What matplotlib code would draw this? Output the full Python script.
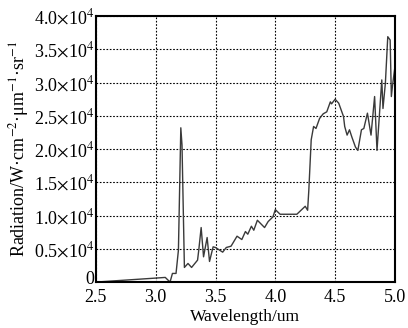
import matplotlib
matplotlib.use("Agg")
import matplotlib.pyplot as plt
import matplotlib.transforms as mtransforms
import numpy as np

plt.rcParams['font.family'] = ['Liberation Serif', 'DejaVu Serif']
plt.rcParams['mathtext.fontset'] = 'stix'

# spectrum (wavelength in um, radiation in units of 1e4)
wavelength = [2.50, 3.00, 3.08, 3.12, 3.14, 3.17, 3.19, 3.21, 3.22, 3.24,
              3.27, 3.30, 3.35, 3.36, 3.38, 3.40, 3.43, 3.45, 3.48, 3.50,
              3.56, 3.59, 3.63, 3.68, 3.72, 3.75, 3.77, 3.80, 3.82, 3.85,
              3.91, 3.94, 3.98, 4.00, 4.04, 4.18, 4.25, 4.27, 4.28, 4.30,
              4.32, 4.34, 4.37, 4.40, 4.43, 4.46, 4.47, 4.50, 4.53, 4.57,
              4.58, 4.60, 4.62, 4.64, 4.67, 4.69, 4.72, 4.74, 4.77, 4.80,
              4.83, 4.85, 4.89, 4.90, 4.92, 4.94, 4.96, 4.97, 4.98, 5.00]
radiation = [0.00, 0.06, 0.07, 0.00, 0.13, 0.13, 0.48, 2.32, 2.06, 0.22,
             0.28, 0.22, 0.33, 0.48, 0.82, 0.38, 0.67, 0.31, 0.53, 0.52,
             0.45, 0.52, 0.54, 0.69, 0.64, 0.76, 0.72, 0.84, 0.78, 0.93,
             0.82, 0.91, 0.98, 1.09, 1.02, 1.02, 1.14, 1.08, 1.38, 2.14,
             2.34, 2.31, 2.46, 2.53, 2.56, 2.71, 2.68, 2.75, 2.69, 2.49,
             2.34, 2.21, 2.29, 2.18, 2.03, 1.98, 2.29, 2.31, 2.54, 2.21,
             2.79, 1.98, 3.04, 2.61, 2.99, 3.69, 3.64, 2.79, 2.96, 3.24]

yticks = [0, 0.5, 1.0, 1.5, 2.0, 2.5, 3.0, 3.5, 4.0]
xticks = [2.5, 3.0, 3.5, 4.0, 4.5, 5.0]


def main():
    fig = plt.figure(figsize=(4.08, 3.28), dpi=100)
    ax = fig.add_axes([0.235, 0.140, 0.733, 0.811])

    ax.plot(np.array(wavelength), np.array(radiation) * 1e4, color="#3a3a3a", lw=1.0)

    ax.set_xlim(2.5, 5.0)
    ax.set_ylim(0, 4e4)
    ax.set_xticks(xticks)
    ax.set_xticklabels(["%.1f" % t for t in xticks])
    ax.set_yticks([t * 1e4 for t in yticks])
    ylabels = ["0"] + [r"%.1f$\times$10$^{4}$" % t for t in yticks[1:]]
    ax.set_yticklabels(ylabels)

    ax.grid(True, color="black", linestyle=(0, (1.5, 1.5)), linewidth=0.8)
    ax.tick_params(direction="in", length=0, labelsize=13)
    ax.tick_params(axis="x", pad=5)
    ax.tick_params(axis="y", pad=1)
    for s in ax.spines.values():
        s.set_linewidth(1.5)

    # lift the "0" a little so it clears the 2.5 below it
    zero = ax.get_yticklabels()[0]
    zero.set_transform(zero.get_transform() +
                       mtransforms.ScaledTranslation(0, 3 / 72, fig.dpi_scale_trans))

    ax.set_xlabel("Wavelength/um", fontsize=12.5, labelpad=2)
    ax.set_ylabel(r"Radiation/W·cm$^{-2}$·μm$^{-1}$·sr$^{-1}$",
                  fontsize=13, labelpad=2)

    plt.savefig("out.png", dpi=100)


if __name__ == '__main__':
    main()
